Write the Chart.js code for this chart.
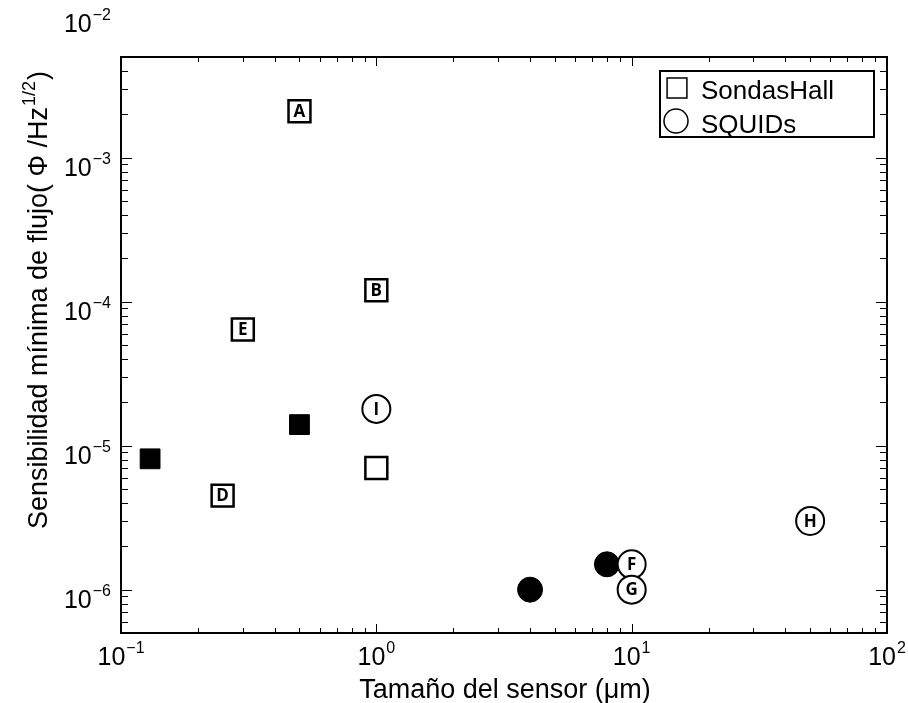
<!DOCTYPE html>
<html>
<head>
<meta charset="utf-8">
<script src="https://cdn.jsdelivr.net/npm/chart.js@4/dist/chart.umd.min.js"></script>
<style>
  body { margin: 0; background: #fff; }
</style>
</head>
<body>
<canvas id="myChart" width="908" height="703"></canvas>
<script>
// Sondas Hall (open squares with a letter)
var hallX = [0.5, 1, 0.3, 0.25, 1];
var hallY = [2.1e-3, 1.2e-4, 6.4e-5, 4.5e-6, 7e-6];
var hallLabels = ["A", "B", "E", "D", ""];
// Sondas Hall, filled
var hallFillX = [0.13, 0.5];
var hallFillY = [8.1e-6, 1.4e-5];
// SQUIDs (open circles with a letter)
var squidX = [1, 10, 10, 50];
var squidY = [1.8e-5, 1.5e-6, 1e-6, 3e-6];
var squidLabels = ["I", "F", "G", "H"];
// SQUIDs, filled
var squidFillX = [4, 8];
var squidFillY = [1e-6, 1.5e-6];

var legendLabels = ["SondasHall", "SQUIDs"];
var xTickExp = [-1, 0, 1, 2];
var yTickExp = [-6, -5, -4, -3, -2];
var xTitle = "Tamaño del sensor (μm)";
var yTitleMain = "Sensibilidad mínima de flujo( Φ /Hz";
var yTitleSup = "1/2";
var yTitleEnd = ")";

var FONT = "'Liberation Sans', Arial, Helvetica, sans-serif";

function pts(xs, ys) {
    return xs.map(function (x, i) { return { x: x, y: ys[i] }; });
}

// draws "10" with a raised exponent, anchored by align
function drawPower(ctx, exp, x, baseline, align) {
    let base = "10";
    let sup = (exp < 0 ? "\u2212" : "") + Math.abs(exp);
    ctx.font = "25px " + FONT;
    let wb = ctx.measureText(base).width;
    ctx.font = "16px " + FONT;
    let ws = ctx.measureText(sup).width;
    let total = wb + 1 + ws;
    let left = align === "right" ? x - total : x - total / 2;
    ctx.textAlign = "left";
    ctx.textBaseline = "alphabetic";
    ctx.font = "25px " + FONT;
    ctx.fillText(base, left, baseline);
    ctx.font = "16px " + FONT;
    ctx.fillText(sup, left + wb + 1, baseline - 12);
}

var matlabAxes = {
    id: "matlabAxes",
    afterDatasetsDraw: function (chart) {
        let ctx = chart.ctx;
        ctx.save();
        ctx.fillStyle = "#000";
        ctx.font = "bold 17px 'Open Sans', sans-serif";
        ctx.textAlign = "center";
        ctx.textBaseline = "middle";
        chart.data.datasets.forEach(function (ds, di) {
            if (!ds.letters) return;
            let meta = chart.getDatasetMeta(di);
            meta.data.forEach(function (el, i) {
                if (ds.letters[i]) ctx.fillText(ds.letters[i], el.x, el.y + 1);
            });
        });
        ctx.restore();
    },
    afterDraw: function (chart) {
        let ctx = chart.ctx;
        let a = chart.chartArea;
        let xs = chart.scales.x;
        let ys = chart.scales.y;
        ctx.save();
        ctx.strokeStyle = "#000";
        ctx.fillStyle = "#000";

        // ticks, inward on all four sides
        ctx.lineWidth = 1;
        ctx.beginPath();
        for (let n = -1; n <= 2; n++) {
            for (let k = 1; k <= 9; k++) {
                let v = k * Math.pow(10, n);
                if (v < xs.min * 0.999 || v > xs.max * 1.001) continue;
                let px = Math.round(xs.getPixelForValue(v)) + 0.5;
                let len = k === 1 ? 9 : 5;
                ctx.moveTo(px, a.bottom); ctx.lineTo(px, a.bottom - len);
                ctx.moveTo(px, a.top); ctx.lineTo(px, a.top + len);
            }
        }
        for (let n = -7; n <= -3; n++) {
            for (let k = 1; k <= 9; k++) {
                let v = k * Math.pow(10, n);
                if (v < ys.min * 0.999 || v > ys.max * 1.001) continue;
                let py = Math.round(ys.getPixelForValue(v)) + 0.5;
                let len = k === 1 ? 11 : 7;
                ctx.moveTo(a.left, py); ctx.lineTo(a.left + len, py);
                ctx.moveTo(a.right, py); ctx.lineTo(a.right - len, py);
            }
        }
        ctx.stroke();

        // axes box
        ctx.lineWidth = 2;
        ctx.strokeRect(a.left, a.top, a.right - a.left, a.bottom - a.top);

        // tick labels
        xTickExp.forEach(function (e) {
            drawPower(ctx, e, xs.getPixelForValue(Math.pow(10, e)), a.bottom + 32, "center");
        });
        yTickExp.forEach(function (e) {
            drawPower(ctx, e, a.left - 10, ys.getPixelForValue(Math.pow(10, e)) + 18, "right");
        });

        // x title
        ctx.font = "27px " + FONT;
        ctx.textAlign = "center";
        ctx.textBaseline = "alphabetic";
        ctx.fillText(xTitle, (a.left + a.right) / 2 + 1, 698);

        // y title, rotated
        ctx.save();
        ctx.translate(47, 300);
        ctx.rotate(-Math.PI / 2);
        ctx.textAlign = "left";
        ctx.font = "27px " + FONT;
        let w1 = ctx.measureText(yTitleMain).width;
        let w3 = ctx.measureText(yTitleEnd).width;
        ctx.font = "18px " + FONT;
        let w2 = ctx.measureText(yTitleSup).width;
        let start = -(w1 + w2 + w3 + 2) / 2;
        ctx.font = "27px " + FONT;
        ctx.fillText(yTitleMain, start, 0);
        ctx.font = "18px " + FONT;
        ctx.fillText(yTitleSup, start + w1 + 1, -12);
        ctx.font = "27px " + FONT;
        ctx.fillText(yTitleEnd, start + w1 + w2 + 2, 0);
        ctx.restore();

        // legend box
        let lx = 660, ly = 71, lw = 214, lh = 66;
        ctx.fillStyle = "#fff";
        ctx.fillRect(lx, ly, lw, lh);
        ctx.lineWidth = 2;
        ctx.strokeRect(lx, ly, lw, lh);
        ctx.fillStyle = "#fff";
        ctx.lineWidth = 1.5;
        Chart.helpers.drawPoint(ctx, { pointStyle: "rect", radius: 14, borderWidth: 1.5 }, 677, 88);
        Chart.helpers.drawPoint(ctx, { pointStyle: "circle", radius: 12, borderWidth: 1.5 }, 676, 121);
        ctx.fillStyle = "#000";
        ctx.font = "26px " + FONT;
        ctx.textAlign = "left";
        ctx.fillText(legendLabels[0], 701, 99);
        ctx.fillText(legendLabels[1], 701, 133);
        ctx.restore();
    }
};

new Chart(document.getElementById("myChart"), {
    type: "scatter",
    data: {
        datasets: [
            {
                label: legendLabels[0],
                data: pts(hallX, hallY),
                letters: hallLabels,
                pointStyle: "rect",
                pointRadius: 15.5,
                pointBackgroundColor: "#fff",
                pointBorderColor: "#000",
                pointBorderWidth: 2.5,
                order: 1
            },
            {
                label: legendLabels[1],
                data: pts(squidX, squidY),
                letters: squidLabels,
                pointStyle: "circle",
                pointRadius: 14,
                pointBackgroundColor: "#fff",
                pointBorderColor: "#000",
                pointBorderWidth: 2,
                order: 1
            },
            {
                label: "hall filled",
                data: pts(hallFillX, hallFillY),
                pointStyle: "rect",
                pointRadius: 14,
                pointBackgroundColor: "#000",
                pointBorderColor: "#000",
                pointBorderWidth: 1,
                order: 2
            },
            {
                label: "squid filled",
                data: pts(squidFillX, squidFillY),
                pointStyle: "circle",
                pointRadius: 12.5,
                pointBackgroundColor: "#000",
                pointBorderColor: "#000",
                pointBorderWidth: 1,
                order: 2
            }
        ]
    },
    options: {
        responsive: false,
        animation: false,
        events: [],
        layout: { padding: { left: 121, top: 57, right: 21, bottom: 70 } },
        plugins: {
            legend: { display: false },
            tooltip: { enabled: false }
        },
        scales: {
            x: { type: "logarithmic", min: 0.1, max: 100, display: false },
            y: { type: "logarithmic", min: 5e-7, max: 5e-3, display: false }
        }
    },
    plugins: [matlabAxes]
});
</script>
</body>
</html>
